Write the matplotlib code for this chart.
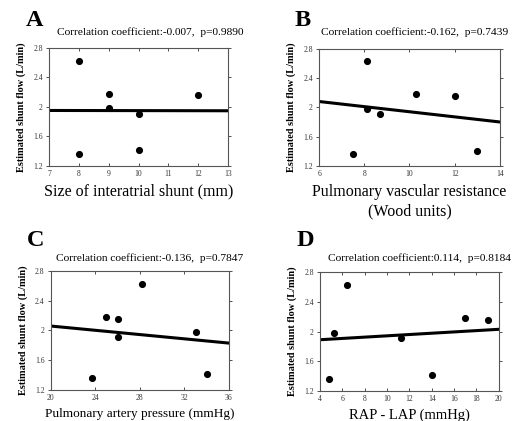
import matplotlib.pyplot as plt
import numpy as np

plt.rcParams["font.family"] = ["Liberation Serif", "DejaVu Serif"]

# shunt flow (L/min), same patients in every panel
flow = [2.63, 1.36, 2.18, 1.98, 1.91, 1.41, 2.16]

shunt_size = [8, 8, 9, 9, 10, 10, 12]
pvr = [8.1, 7.5, 10.3, 8.1, 8.7, 13.0, 12.0]
pap = [28.2, 23.7, 25.0, 33.0, 26.0, 34.0, 26.0]
rap_lap = [6.4, 4.8, 17.0, 5.2, 11.2, 14.0, 19.0]

# regression line end values
fit_a = [1.952, 1.948]
fit_b = [2.08, 1.80]
fit_c = [2.06, 1.83]
fit_d = [1.89, 2.03]

W, H = 518, 421

panels = [
    dict(letter="A", x=shunt_size, fit=fit_a, xlim=(7, 13), xticks=np.arange(7, 14, 1),
         title="Correlation coefficient:-0.007,  p=0.9890",
         xlabel="Size of interatrial shunt (mm)", xlsize=11.5,
         pos=[0.095, 0.606, 0.345, 0.280], letter_xy=(35, 21), title_xy=(150, 32)),
    dict(letter="B", x=pvr, fit=fit_b, xlim=(6, 14), xticks=np.arange(6, 15, 2),
         title="Correlation coefficient:-0.162,  p=0.7439",
         xlabel="Pulmonary vascular resistance\n(Wood units)", xlsize=11.5,
         pos=[0.616, 0.606, 0.349, 0.278], letter_xy=(303, 21), title_xy=(415, 32)),
    dict(letter="C", x=pap, fit=fit_c, xlim=(20, 36), xticks=np.arange(20, 37, 4),
         title="Correlation coefficient:-0.136,  p=0.7847",
         xlabel="Pulmonary artery pressure (mmHg)", xlsize=9.5,
         pos=[0.098, 0.074, 0.344, 0.282], letter_xy=(36, 240), title_xy=(150, 258)),
    dict(letter="D", x=rap_lap, fit=fit_d, xlim=(4, 20), xticks=np.arange(4, 21, 2),
         title="Correlation coefficient:0.114,  p=0.8184",
         xlabel="RAP - LAP (mmHg)", xlsize=10.5,
         pos=[0.618, 0.071, 0.345, 0.283], letter_xy=(305, 240), title_xy=(419, 258)),
]

fig = plt.figure(figsize=(W / 100, H / 100), dpi=100)

for p in panels:
    ax = fig.add_axes(p["pos"])
    ax.scatter(p["x"], flow, s=17, color="black", zorder=3)
    ax.plot(p["xlim"], p["fit"], color="black", lw=2.2)
    ax.set_xlim(*p["xlim"])
    ax.set_ylim(1.2, 2.8)
    ax.set_xticks(p["xticks"])
    ax.set_yticks([1.2, 1.6, 2.0, 2.4, 2.8])
    ax.set_yticklabels(["1.2", "1.6", "2", "2.4", "2.8"])
    ax.tick_params(labelsize=5.5, length=2.5, width=0.6, pad=2, colors="#333333",
                   top=True, right=True, direction="out")
    ax.tick_params(axis="x", direction="in", pad=3)
    for s in ax.spines.values():
        s.set_linewidth(0.8)
        s.set_color("#555555")
    ax.set_xlabel(p["xlabel"], fontsize=p["xlsize"], labelpad=4, linespacing=1.3)
    ax.set_ylabel("Estimated shunt flow (L/min)", fontsize=7.4, fontweight="bold",
                  labelpad=5)

    tx, ty = p["title_xy"]
    fig.text(tx / W, 1 - ty / H, p["title"], fontsize=8.2, ha="center", va="center")
    lx, ly = p["letter_xy"]
    fig.text(lx / W, 1 - ly / H, p["letter"], fontsize=17.5, fontweight="bold",
             ha="center", va="center")

fig.savefig("out.png", dpi=100)
